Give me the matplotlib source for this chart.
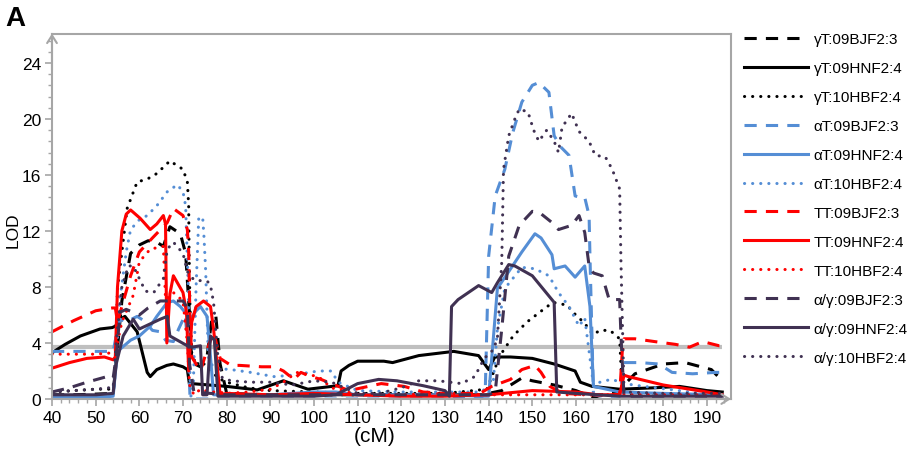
import matplotlib
matplotlib.use("Agg")
import matplotlib.pyplot as plt
from matplotlib.ticker import MultipleLocator

plt.rcParams['font.family'] = ['Liberation Sans', 'DejaVu Sans']

# ---------------- data (cM, LOD) ----------------
labels = ["γT:09BJF2:3", "γT:09HNF2:4", "γT:10HBF2:4",
          "αT:09BJF2:3", "αT:09HNF2:4", "αT:10HBF2:4",
          "TT:09BJF2:3", "TT:09HNF2:4", "TT:10HBF2:4",
          "α/γ:09BJF2:3", "α/γ:09HNF2:4", "α/γ:10HBF2:4"]

gT_BJ_x = [40, 45, 50, 54, 54.8, 56, 58, 60, 62, 64, 65.5, 67, 69.4, 70.6, 71.5, 72, 74, 75.5, 76.5, 77.5, 78.5, 80,
           90, 100, 110, 120, 130, 138, 140, 143, 147.6, 150, 155, 160, 164, 166, 170, 171, 173.5, 180, 185, 191, 193.5]
gT_BJ_y = [0.3, 0.3, 0.35, 0.4, 3, 7, 10.4, 11, 11.3, 11.2, 10.9, 12.3, 11.8, 10.4, 6, 2.6, 2.3, 3, 5.5, 6, 2.5, 0.4,
           0.3, 0.3, 0.3, 0.3, 0.3, 0.3, 0.4, 0.6, 1.5, 1.3, 1.0, 0.6, 0.1, 0.3, 0.5, 1.0, 1.8, 2.5, 2.6, 2.1, 1.3]

gT_HN_x = [40, 43, 46.5, 51, 53.8, 54.5, 55.6, 56.7, 59.5, 61.8, 62.5, 64, 66.3, 67.8, 70, 71, 71.5, 72, 76, 80, 87,
           93, 98.6, 105.5, 106.2, 108, 110, 116, 118, 124, 132, 137.7, 140, 141.4, 145, 150, 155, 159.8, 161, 163.7,
           170, 178, 183.7, 190, 193.5]
gT_HN_y = [3.3, 3.9, 4.5, 5.0, 5.1, 5.2, 5.7, 5.9, 4.8, 1.9, 1.6, 2.1, 2.4, 2.5, 2.3, 2.1, 1.0, 1.1, 1.0, 0.9, 0.65,
           1.3, 0.7, 0.95, 2.0, 2.4, 2.7, 2.7, 2.6, 3.1, 3.4, 3.1, 2.1, 3.0, 3.0, 2.9, 2.5, 2.0, 1.2, 0.9,
           0.7, 0.8, 0.9, 0.6, 0.5]

gT_HB_x = [40, 45, 50, 54, 54.6, 55, 56, 57.2, 59.5, 61.8, 64, 67, 70, 71, 71.3, 71.4, 71.6, 72, 73, 74, 76, 78, 80,
           85, 90, 100, 110, 120, 130, 139.6, 142.6, 145.6, 148.8, 151.7, 154.7, 158, 159.3, 162, 163.9, 165.5, 167.8,
           170, 170.6, 172, 180, 190, 193.5]
gT_HB_y = [0.5, 0.6, 0.7, 0.7, 3, 7.9, 10.5, 13.6, 15.5, 15.7, 16.1, 17.0, 16.4, 15.5, 13.8, 10.5, 6.6, 3.3, 2.4, 2.7,
           2.2, 1.5, 1.2, 0.8, 0.6, 0.5, 0.4, 0.4, 0.4, 0.7, 3.1, 4.5, 5.5, 6.2, 6.9, 6.7, 6.2, 5.4, 4.6, 4.9, 4.9,
           4.3, 0.5, 0.3, 0.3, 0.3, 0.3]

aT_BJ_x = [40, 45, 50, 54, 54.7, 55.6, 57, 59.5, 61, 63, 64.8, 66, 67.8, 69, 70.5, 71.2, 71.6, 72, 80, 90, 100, 110,
           120, 130, 138, 139.2, 140, 141.5, 143.7, 145.5, 147.6, 150, 151.5, 153.8, 155, 156.5, 158.4, 159.8, 161,
           162, 163, 163.2, 164, 166, 170, 171, 174.5, 179, 182, 186.7, 192, 193.5]
aT_BJ_y = [3.4, 3.4, 3.4, 3.4, 4.5, 5.7, 5.5, 5.9, 5.6, 4.9, 4.8, 4.2, 4.1, 5, 6.0, 3.5, 0.2, 0.0, 0.0, 0.0, 0.0, 0.0,
           0.0, 0.0, 0.1, 0.3, 10.2, 14.5, 16.4, 19, 21.2, 22.4, 22.6, 21.9, 18.8, 18, 17.4, 14.5, 14.4,
           14.4, 13.1, 10.2, 0.3, 0.2, 0.2, 2.6, 2.6, 2.5, 1.9, 1.8, 1.9, 1.9]

aT_HN_x = [40, 45, 50, 54, 54.7, 55, 58, 60, 62.5, 64, 66.4, 67.8, 69.4, 71.7, 73, 74, 75.5, 76.3, 77, 80, 90, 100,
           105, 110, 120, 130, 138, 140, 142, 144.6, 147.6, 150.6, 152, 154.5, 155, 157.5, 159.8, 162, 163.2, 164,
           170, 180, 193.5]
aT_HN_y = [0.1, 0.1, 0.1, 0.2, 2.5, 3.4, 4.2, 4.5, 5.2, 5.9, 6.9, 7.0, 6.6, 5.7, 6.3, 6.6, 5.9, 3, 0.3, 0.3, 0.3, 0.5,
           0.5, 0.3, 0.3, 0.3, 0.2, 0.2, 7.9, 9.1, 10.5, 11.8, 11.5, 10.3, 9.3, 9.5, 8.7, 9.5, 6.6, 0.9,
           0.5, 0.4, 0.3]

aT_HB_x = [40, 45, 50, 54, 54.7, 55.5, 57, 58, 60, 61.8, 64, 66.4, 68.7, 70, 70.6, 71.2, 71.7, 72.3, 73, 73.6, 74.5,
           74.8, 75.2, 75.8, 77, 81, 85.5, 90.8, 95, 101, 104, 105.5, 110, 120, 130, 138, 141, 142, 143.7, 147.6,
           150.6, 153.8, 156, 158.4, 160.7, 162, 164, 165.5, 168, 173, 181, 193.5]
aT_HB_y = [0.0, 0.0, 0.0, 0.1, 3, 7, 10.5, 12.1, 12.8, 13.1, 13.8, 14.8, 15.3, 14.8, 13.8, 8, 0.2, 0.3, 8, 12.9, 13.0,
           11.6, 9.1, 3, 2.2, 2.1, 1.9, 1.6, 1.7, 2.0, 2.0, 1.2, 0.6, 0.5, 0.5, 0.5, 1, 5, 7.9, 9.4,
           9.3, 8.8, 7.6, 6.6, 5.2, 5.8, 1.0, 1.2, 1.4, 1.0, 0.7, 0.2]

TT_BJ_x = [40, 45, 50, 53.8, 54.5, 55, 56, 58, 60, 63, 66.4, 67.8, 70, 71, 71.3, 71.6, 72, 74, 75.5, 77, 78.5, 81, 83,
           88, 91, 93, 95.4, 97, 99.3, 101.6, 104, 108, 115.4, 120.7, 125, 130, 138, 140.7, 145, 147.6, 150.6, 152,
           154, 157, 163, 170, 170.6, 171, 173.5, 178, 182.8, 186, 189, 192.8, 193.5]
TT_BJ_y = [4.8, 5.6, 6.3, 6.5, 6.5, 5.5, 6.6, 8.8, 10.5, 11.5, 12.6, 13.6, 13.1, 12.1, 10.5, 5.7, 3.0, 2.0, 3.5, 4.8,
           2.9, 2.4, 2.4, 2.3, 2.3, 2.0, 1.4, 1.9, 1.6, 1.4, 1.1, 0.6, 1.1, 0.9, 0.5, 0.4, 0.4, 0.9, 1.4, 2.1,
           2.4, 1.9, 0.9, 0.4, 0.3, 0.3, 3.4, 4.3, 4.3, 4.1, 3.9, 3.7, 4.1, 3.8, 3.8]

TT_HN_x = [40, 44, 48, 52, 54, 54.5, 55, 56, 57, 58, 60.2, 62.5, 64, 65.5, 66, 66.3, 67, 67.8, 70, 70.8, 71.3, 72,
           73, 74.7, 76.3, 77, 77.8, 78.5, 80, 90, 100, 110, 120, 130, 140, 150, 160, 165, 170, 171, 172, 180, 190,
           193.5]
TT_HN_y = [2.2, 2.6, 2.9, 3.0, 2.8, 3.0, 8, 12, 13.2, 13.5, 12.9, 12.1, 12.5, 13.1, 12.5, 4, 7.5, 8.8, 7.6, 6.2, 2,
           5.5, 6.6, 7.0, 6.6, 5.0, 2.5, 0.3, 0.4, 0.3, 0.4, 0.3, 0.2, 0.2, 0.3, 0.6, 0.5, 0.3, 0.3, 1.7,
           1.6, 1.0, 0.5, 0.3]

TT_HB_x = [40, 45, 50, 54, 54.7, 56, 58.6, 60, 62.5, 65.5, 66, 67.8, 70, 71, 71.5, 72.5, 74, 76, 78, 80, 85, 90, 93,
           96, 101, 104, 110, 120, 130, 140, 150, 160, 170, 180, 193.5]
TT_HB_y = [3.2, 3.2, 3.2, 3.3, 3.6, 5.5, 7.4, 9.8, 10.7, 10.9, 7.1, 7.6, 7.0, 4, 1, 0.3, 0.7, 0.5, 0.5, 0.4, 0.5, 0.7,
           1.2, 1.9, 1.6, 0.8, 0.3, 0.3, 0.4, 0.3, 0.3, 0.3, 0.3, 0.3, 0.3]

ag_BJ_x = [40, 44, 48, 52.6, 54, 54.7, 55.6, 57, 58.5, 60, 62, 64.8, 67, 70, 71, 71.5, 72.5, 80, 90, 100, 110, 120,
           130, 138, 140, 141.5, 143, 144.6, 147, 150, 151.7, 154.5, 156, 159, 160.7, 162, 163, 164, 166, 167.6, 170,
           170.3, 171, 180, 193.5]
ag_BJ_y = [0.5, 0.8, 1.2, 1.6, 1.5, 3, 6.2, 6.4, 6.2, 6.0, 6.5, 7.0, 7.0, 7.0, 6.5, 2.5, 0.5, 0.3, 0.3, 0.3, 0.3, 0.3,
           0.3, 0.3, 0.3, 0.5, 5, 10.2, 12.4, 13.4, 13.3, 12.6, 12.1, 12.4, 13.1, 11.9, 9.5, 9.0, 8.8, 7.1, 7.1,
           4.5, 0.2, 0.2, 0.2]

ag_HN_x = [40, 45, 50, 54, 54.7, 56.3, 58.6, 60, 64.8, 66.4, 67, 71, 72, 74, 74.5, 75.5, 76.3, 77.2, 78, 80, 90, 100,
           105, 110, 114.8, 119, 125, 130, 131, 131.5, 133, 137.7, 140.7, 142, 144.6, 146, 150, 155, 155.6, 160, 170,
           180, 193.5]
ag_HN_y = [0.3, 0.3, 0.3, 0.4, 2.5, 4.5, 5.7, 5.0, 5.7, 5.9, 4.5, 3.8, 3.7, 3.8, 0.3, 0.3, 4.5, 4.2, 0.2, 0.2, 0.2,
           0.2, 0.3, 1.1, 1.4, 1.3, 0.95, 0.6, 0.2, 6.6, 7.1, 8.1, 7.6, 8.3, 9.6, 9.5, 8.8, 6.9, 0.5, 0.4, 0.2,
           0.2, 0.2]

ag_HB_x = [40, 45, 50, 53, 54, 54.7, 56, 57.5, 58.6, 60, 61.4, 63.3, 65.5, 66.4, 67.8, 70, 71, 72.5, 75.6, 76.3, 77,
           78, 79, 81, 85.5, 90, 95, 100, 104, 110, 115, 120, 124, 128.5, 133.8, 136.8, 139, 141, 142, 143, 143.4,
           144.6, 146, 147, 149, 150.3, 151.5, 153.3, 155, 156, 156.8, 159, 160.7, 163, 164.4, 166.7, 168.3, 170,
           170.3, 171, 180, 193.5]
ag_HB_y = [0.5, 0.6, 0.7, 0.8, 0.8, 4, 8, 9.5, 9.5, 8.6, 7.7, 7.6, 8.6, 10.7, 11.2, 10.4, 9.1, 8.5, 8.4, 8.1, 6.9,
           3, 1.5, 1.3, 1.2, 1.2, 1.0, 1.3, 1.2, 0.4, 0.4, 0.8, 1.3, 1.3, 1.1, 1.6, 2.9, 3.5, 4.3, 9.8, 16.4,
           18.8, 20, 20.7, 20.5, 19.2, 18.4, 19.2, 18.4, 17.6, 19.4, 20.4, 19.1, 18.4, 17.4, 17.3, 16.4, 15,
           9.8, 0.5, 0.4, 0.4]

threshold_x = [40, 193.5]
threshold_lod = 3.7

x_ticks = list(range(40, 191, 10))
y_ticks = list(range(0, 25, 4))

# ---------------- styling ----------------
black, blue, red, purple = "#000000", "#558ED5", "#FF0000", "#403152"
colors = [black] * 3 + [blue] * 3 + [red] * 3 + [purple] * 3
LW = 2.2
dash = (0, (4.0, 3.0))
dot = (0, (0.05, 2.6))
styles = [dash, "-", dot] * 4

series = [(gT_BJ_x, gT_BJ_y), (gT_HN_x, gT_HN_y), (gT_HB_x, gT_HB_y),
          (aT_BJ_x, aT_BJ_y), (aT_HN_x, aT_HN_y), (aT_HB_x, aT_HB_y),
          (TT_BJ_x, TT_BJ_y), (TT_HN_x, TT_HN_y), (TT_HB_x, TT_HB_y),
          (ag_BJ_x, ag_BJ_y), (ag_HN_x, ag_HN_y), (ag_HB_x, ag_HB_y)]

W, H = 908, 452
fig = plt.figure(figsize=(W / 100, H / 100), dpi=100)
ax = fig.add_axes([52 / W, 1 - 400 / H, (731 - 52) / W, (400 - 34.5) / H])

gray = "#A6A6A6"
ax.plot(threshold_x, [threshold_lod, threshold_lod], color="#BFBFBF", lw=3, solid_capstyle="butt", zorder=1)

handles = []
for (xs, ys), c, ls, lab in zip(series, colors, styles, labels):
    ln, = ax.plot(xs, ys, color=c, lw=LW, linestyle=ls, label=lab,
                  dash_capstyle="round" if ls == dot else "butt",
                  solid_joinstyle="round", zorder=2)
    handles.append(ln)

ax.set_xlim(40, 195.5)
ax.set_ylim(0, 26.1)
ax.set_xticks(x_ticks)
ax.set_yticks(y_ticks)
ax.xaxis.set_minor_locator(MultipleLocator(2))
ax.yaxis.set_minor_locator(MultipleLocator(0.8))
ax.tick_params(axis="both", which="major", direction="out", length=5, width=1.2, color=gray,
               labelsize=12.5, pad=3)
ax.tick_params(axis="both", which="minor", direction="out", length=3, width=1.0, color=gray)

for s in ax.spines.values():
    s.set_color(gray)
    s.set_linewidth(1.5)

# arrow heads on the axes
ax.annotate("", xy=(0, 1.0), xytext=(0, 0.9), xycoords="axes fraction",
            arrowprops=dict(arrowstyle="->,head_length=0.55,head_width=0.35", color=gray, lw=1.5,
                            shrinkA=0, shrinkB=0))
ax.annotate("", xy=(1.0, 0), xytext=(0.9, 0), xycoords="axes fraction",
            arrowprops=dict(arrowstyle="->,head_length=0.55,head_width=0.35", color=gray, lw=1.5,
                            shrinkA=0, shrinkB=0))

ax.set_ylabel("LOD", fontsize=12.5)
ax.yaxis.set_label_coords((21 - 52) / 679, (400 - 230) / 365.5)
ax.set_xlabel("(cM)", fontsize=15)
ax.xaxis.set_label_coords((375 - 52) / 679, -(427 - 400) / 365.5)

fig.text(5 / W, 1 - 6 / H, "A", fontsize=20, fontweight="bold", va="top", ha="left")

fig.legend(handles=handles, loc="upper left", bbox_to_anchor=(744 / W, 1 - 33 / H),
           frameon=False, fontsize=11, handlelength=4.2, handletextpad=0.35,
           labelspacing=0.98, borderaxespad=0, borderpad=0)

fig.savefig("out.png", dpi=100)
